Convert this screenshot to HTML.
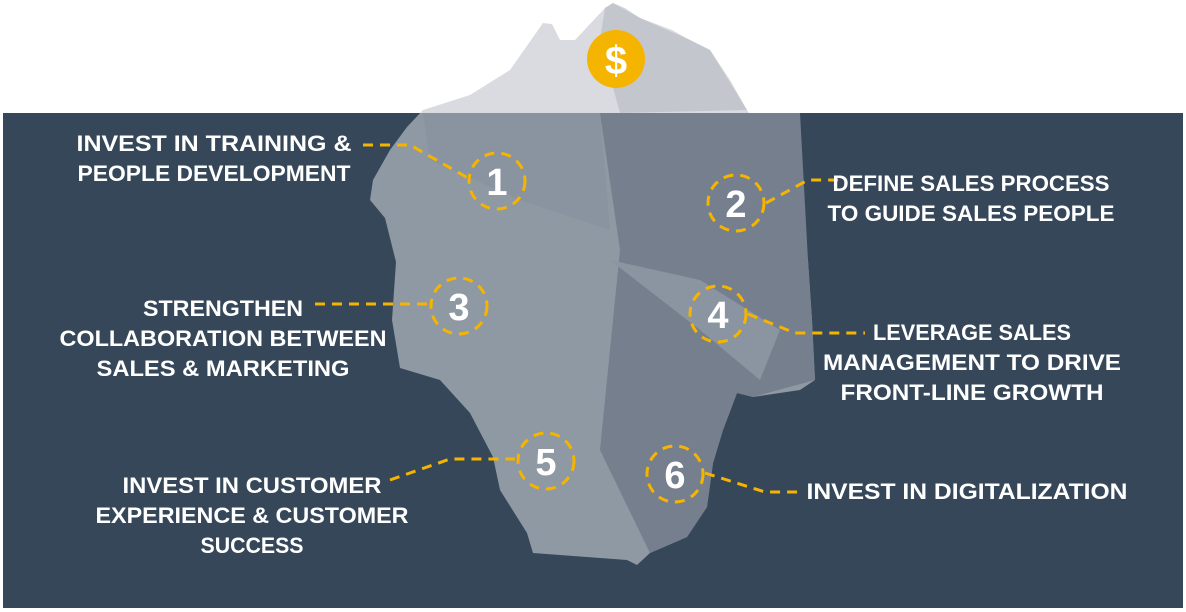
<!DOCTYPE html>
<html><head><meta charset="utf-8"><style>
html,body{margin:0;padding:0;background:#fff;width:1186px;height:612px;overflow:hidden}
text{font-family:"Liberation Sans",sans-serif;font-weight:bold;fill:#fff}
</style></head><body>
<svg width="1186" height="612" viewBox="0 0 1186 612">
<defs>
<polygon id="ice" points="543,23 552,24 560,40 575,40 605,8 613,3 625,8 640,18 672,30 690,40 710,50 730,80 747,110 760,130 773,150 785,180 800,207 808,260 812,320 815,380 800,390 753,397 737,393 723,430 713,463 707,507 687,537 650,553 637,565 627,560 533,553 527,533 500,490 493,457 470,413 440,380 400,368 392,320 396,262 385,218 370,200 373,180 390,150 407,127 423,110 470,95 510,70"/>
<clipPath id="under"><rect x="3" y="113" width="1180" height="495"/></clipPath>
<clipPath id="above"><rect x="0" y="0" width="1186" height="113"/></clipPath>
</defs>
<use href="#ice" fill="#d9dbe0" clip-path="url(#above)"/>
<polygon points="605,8 613,3 640,18 690,40 710,50 747,110 620,113 600,40" fill="#c4c6ce" clip-path="url(#above)"/>
<rect x="3" y="113" width="1180" height="495" fill="#354759"/>
<g clip-path="url(#under)">
<use href="#ice" fill="#8e99a4"/>
<polygon points="600,113 800,113 808,260 812,320 815,380 753,397 737,393 723,430 713,463 707,507 687,537 650,553 600,450 620,250" fill="#757f8d"/>
<polygon points="610,260 700,280 780,330 760,380 700,330" fill="#8a95a1"/>
<polygon points="423,113 470,113 600,113 610,230 520,200 430,160" fill="#8a94a0"/>
</g>
<g fill="none" stroke="#f5b400" stroke-width="3" stroke-dasharray="10 7">
<circle cx="497" cy="181" r="28"/>
<circle cx="736" cy="203" r="28"/>
<circle cx="459" cy="306" r="28"/>
<circle cx="718" cy="314" r="28"/>
<circle cx="546" cy="461" r="28"/>
<circle cx="675" cy="474" r="28"/>
<polyline points="363,145 410,145 468,178"/>
<polyline points="766,203 808,180 840,180"/>
<polyline points="315,304 430,304"/>
<polyline points="748,314 795,333 865,333"/>
<polyline points="390,480 450,459 515,459"/>
<polyline points="705,473 765,492 800,492"/>
</g>
<circle cx="616" cy="59" r="29" fill="#f5b400"/>
<text x="616" y="74" font-size="40" text-anchor="middle">$</text>
<g font-size="38" text-anchor="middle">
<text x="497" y="195">1</text><text x="736" y="217">2</text><text x="459" y="320">3</text>
<text x="718" y="328">4</text><text x="546" y="475">5</text><text x="675" y="488">6</text>
</g>
<g font-size="22" text-anchor="middle" lengthAdjust="spacingAndGlyphs">
<text x="214" y="151" textLength="275" lengthAdjust="spacingAndGlyphs">INVEST IN TRAINING &amp;</text>
<text x="214" y="181" textLength="273" lengthAdjust="spacingAndGlyphs">PEOPLE DEVELOPMENT</text>
<text x="971" y="191" textLength="277" lengthAdjust="spacingAndGlyphs">DEFINE SALES PROCESS</text>
<text x="971" y="221" textLength="287" lengthAdjust="spacingAndGlyphs">TO GUIDE SALES PEOPLE</text>
<text x="223" y="316" textLength="160" lengthAdjust="spacingAndGlyphs">STRENGTHEN</text>
<text x="223" y="346" textLength="327" lengthAdjust="spacingAndGlyphs">COLLABORATION BETWEEN</text>
<text x="223" y="376" textLength="253" lengthAdjust="spacingAndGlyphs">SALES &amp; MARKETING</text>
<text x="972" y="340" textLength="198" lengthAdjust="spacingAndGlyphs">LEVERAGE SALES</text>
<text x="972" y="370" textLength="298" lengthAdjust="spacingAndGlyphs">MANAGEMENT TO DRIVE</text>
<text x="972" y="400" textLength="263" lengthAdjust="spacingAndGlyphs">FRONT-LINE GROWTH</text>
<text x="252" y="493" textLength="259" lengthAdjust="spacingAndGlyphs">INVEST IN CUSTOMER</text>
<text x="252" y="523" textLength="313" lengthAdjust="spacingAndGlyphs">EXPERIENCE &amp; CUSTOMER</text>
<text x="252" y="553" textLength="103" lengthAdjust="spacingAndGlyphs">SUCCESS</text>
<text x="967" y="499" textLength="321" lengthAdjust="spacingAndGlyphs">INVEST IN DIGITALIZATION</text>
</g>
</svg>
</body></html>
